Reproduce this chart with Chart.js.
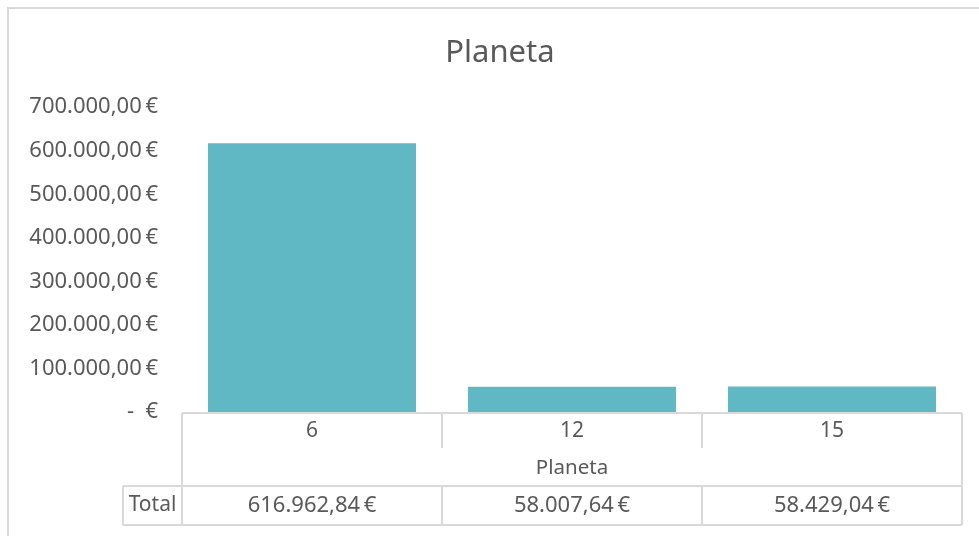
<!DOCTYPE html>
<html>
<head>
<meta charset="utf-8">
<script src="https://cdn.jsdelivr.net/npm/chart.js@4"></script>
<style>
  html, body { margin: 0; padding: 0; background: #fff; }
  #wrap { width: 979px; height: 536px; }
</style>
</head>
<body>
<div id="wrap"><canvas id="myChart"></canvas></div>
<script>
const categories = ['6', '12', '15'];
const totals = [616962.84, 58007.64, 58429.04];
const seriesName = 'Total';
const axisTitle = 'Planeta';
const chartTitle = 'Planeta';

const textColor = '#595959';
const lineColor = '#d9d9d9';
const fontFamily = '"Noto Sans", sans-serif';

const euro = (v) => {
  if (v === 0) return '-  €';
  const parts = v.toFixed(2).split('.');
  const int = parts[0].replace(/\B(?=(\d{3})+(?!\d))/g, '.');
  return int + ',' + parts[1] + '\u2009€';
};

// data table under the plot, placed with the x scale
const dataTable = {
  id: 'dataTable',
  afterDraw(chart) {
    const ctx = chart.ctx;
    const x = chart.scales.x;
    const area = chart.chartArea;
    const left = area.left, right = area.right;
    const top = area.bottom + 1;
    const row1 = top + 35, row2 = top + 73, bottom = top + 112;
    const labelLeft = 123;

    ctx.save();
    ctx.strokeStyle = lineColor;
    ctx.lineWidth = 2;
    ctx.beginPath();
    ctx.moveTo(left, top); ctx.lineTo(right, top);
    ctx.moveTo(labelLeft, row2); ctx.lineTo(right, row2);
    ctx.moveTo(labelLeft, bottom); ctx.lineTo(right, bottom);
    ctx.moveTo(left, top); ctx.lineTo(left, bottom);
    ctx.moveTo(right, top); ctx.lineTo(right, bottom);
    ctx.moveTo(labelLeft, row2); ctx.lineTo(labelLeft, bottom);
    for (let i = 1; i < categories.length; i++) {
      const bx = (x.getPixelForValue(i - 1) + x.getPixelForValue(i)) / 2;
      ctx.moveTo(bx, top); ctx.lineTo(bx, row1);
      ctx.moveTo(bx, row2); ctx.lineTo(bx, bottom);
    }
    ctx.stroke();

    ctx.fillStyle = textColor;
    ctx.textAlign = 'center';
    ctx.textBaseline = 'middle';
    ctx.font = '21px ' + fontFamily;
    categories.forEach((c, i) => {
      ctx.fillText(c, x.getPixelForValue(i), (top + row1) / 2 + 1);
    });
    ctx.font = '22px ' + fontFamily;
    categories.forEach((c, i) => {
      ctx.fillText(euro(totals[i]), x.getPixelForValue(i), (row2 + bottom) / 2);
    });
    ctx.font = '20.5px ' + fontFamily;
    ctx.fillText(axisTitle, (left + right) / 2, (row1 + row2) / 2 + 1);
    ctx.font = '21px ' + fontFamily;
    ctx.fillText(seriesName, (labelLeft + left) / 2, (row2 + bottom) / 2);
    ctx.restore();
  }
};

const frame = {
  id: 'frame',
  afterLayout(chart) {
    // title is centred on the whole frame, not on the padded area
    if (chart.titleBlock) chart.titleBlock.left = 38;
  },
  beforeDraw(chart) {
    const ctx = chart.ctx;
    ctx.save();
    ctx.strokeStyle = lineColor;
    ctx.lineWidth = 2;
    ctx.strokeRect(8, 8, 1200, 1200);
    ctx.restore();
  }
};

const data = {
  labels: categories,
  datasets: [{
    label: seriesName,
    data: totals,
    backgroundColor: '#5fb8c3',
    barPercentage: 0.8,
    categoryPercentage: 1.0
  }]
};

const config = {
  type: 'bar',
  data: data,
  options: {
    responsive: true,
    maintainAspectRatio: false,
    animation: false,
    layout: { padding: { left: 0, right: 17, top: 0, bottom: 124 } },
    plugins: {
      legend: { display: false },
      tooltip: { enabled: false },
      title: {
        display: true,
        text: chartTitle,
        color: textColor,
        font: { family: fontFamily, size: 31, weight: 'normal' },
        padding: { top: 35, bottom: 35 }
      }
    },
    scales: {
      x: { display: false },
      y: {
        min: 0,
        max: 700000,
        ticks: {
          stepSize: 100000,
          padding: 24,
          color: textColor,
          font: { family: fontFamily, size: 22 },
          callback: (v) => euro(v)
        },
        grid: { display: false, drawTicks: false },
        border: { display: false },
        afterFit: (scale) => { scale.width = 182; }
      }
    }
  },
  plugins: [frame, dataTable]
};

const chart = new Chart(document.getElementById('myChart'), config);
</script>
</body>
</html>
